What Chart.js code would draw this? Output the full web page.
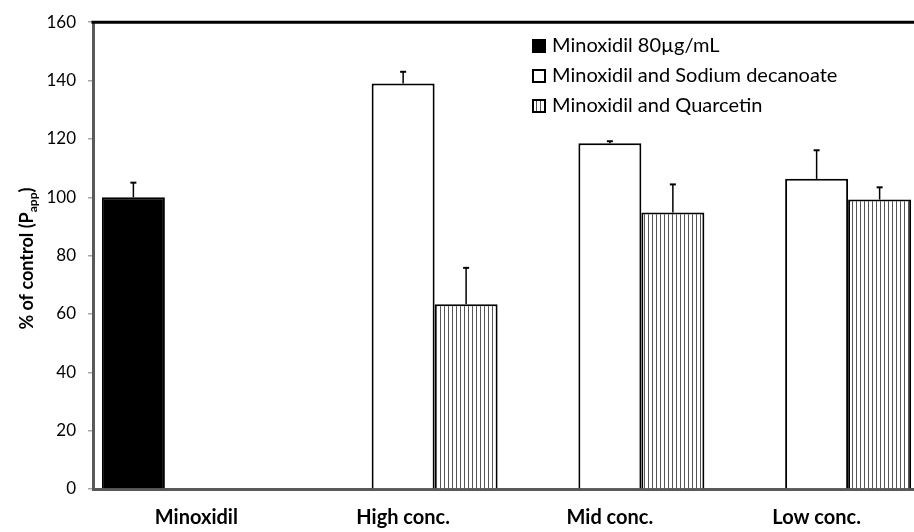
<!DOCTYPE html>
<html>
<head>
<meta charset="utf-8">
<script src="https://cdn.jsdelivr.net/npm/chart.js@4/dist/chart.umd.min.js"></script>
<style>
  html, body { margin: 0; padding: 0; background: #fff; overflow: hidden; }
  #wrap { width: 921px; height: 532px; position: relative; }
</style>
</head>
<body>
<div id="wrap"><canvas id="myChart"></canvas></div>
<script>
var categories = ["Minoxidil", "High conc.", "Mid conc.", "Low conc."];
var seriesNames = ["Minoxidil 80\u00b5g/mL", "Minoxidil and Sodium decanoate", "Minoxidil and Quarcetin"];
var minoxidil = [100, null, null, null];
var minoxidilErr = [5, null, null, null];
var sodiumDecanoate = [null, 139, 118.5, 106.3];
var sodiumDecanoateErr = [null, 4, 0.7, 9.8];
var quarcetin = [null, 63.3, 94.8, 99.2];
var quarcetinErr = [null, 12.5, 9.6, 4.2];
var yTicks = [0, 20, 40, 60, 80, 100, 120, 140, 160];

var FONT = "Lato";

// vertical-line hatch used for the third series
function makeHatch() {
    var c = document.createElement("canvas");
    c.width = 4; c.height = 4;
    var g = c.getContext("2d");
    g.fillStyle = "#fff";
    g.fillRect(0, 0, 4, 4);
    g.fillStyle = "#555";
    g.fillRect(0, 0, 1, 4);
    return g.createPattern(c, "repeat");
}
var hatch = makeHatch();

var errorBars = {
    id: "errorBars",
    afterDatasetsDraw: function (chart) {
        var ctx = chart.ctx, y = chart.scales.y;
        ctx.save();
        ctx.strokeStyle = "#000";
        chart.data.datasets.forEach(function (ds, i) {
            var meta = chart.getDatasetMeta(i);
            meta.data.forEach(function (bar, j) {
                if (ds.data[j] == null) return;
                var top = y.getPixelForValue(ds.data[j] + ds.errors[j]);
                ctx.lineWidth = 1.5;
                ctx.beginPath();
                ctx.moveTo(bar.x, bar.y);
                ctx.lineTo(bar.x, top);
                ctx.stroke();
                ctx.lineWidth = 2;
                ctx.beginPath();
                ctx.moveTo(bar.x - 3, top);
                ctx.lineTo(bar.x + 3, top);
                ctx.stroke();
            });
        });
        ctx.restore();
    }
};

var frame = {
    id: "frame",
    afterDraw: function (chart) {
        var ctx = chart.ctx, a = chart.chartArea;
        ctx.save();
        // top border
        ctx.strokeStyle = "#000";
        ctx.lineWidth = 3;
        ctx.beginPath();
        ctx.moveTo(a.left - 1.5, a.top);
        ctx.lineTo(a.right + 2, a.top);
        ctx.stroke();

        // y axis title with subscript
        var mid = (a.top + a.bottom) / 2 + 3;
        ctx.translate(27, mid);
        ctx.rotate(-Math.PI / 2);
        ctx.fillStyle = "#000";
        ctx.textBaseline = "middle";
        var main = "% of control (P", sub = "app", close = ")";
        ctx.font = "bold 18px " + FONT;
        var w1 = ctx.measureText(main).width, w3 = ctx.measureText(close).width;
        ctx.font = "bold 12px " + FONT;
        var w2 = ctx.measureText(sub).width;
        var x = -(w1 + w2 + w3) / 2;
        ctx.font = "bold 18px " + FONT;
        ctx.fillText(main, x, 0);
        ctx.font = "bold 12px " + FONT;
        ctx.fillText(sub, x + w1, 6);
        ctx.font = "bold 18px " + FONT;
        ctx.fillText(close, x + w1 + w2, 0);
        ctx.restore();

        // legend in the upper right of the plot
        var lx = 532, ly = 46, step = 30;
        ctx.save();
        ctx.font = "20px " + FONT;
        ctx.textBaseline = "middle";
        chart.data.datasets.forEach(function (ds, i) {
            var yy = ly + i * step;
            ctx.fillStyle = ds.backgroundColor;
            ctx.fillRect(lx, yy - 7, 14, 14);
            ctx.strokeStyle = "#000";
            ctx.lineWidth = 2;
            ctx.strokeRect(lx + 1, yy - 6, 12, 12);
            ctx.fillStyle = "#000";
            ctx.fillText(ds.label, lx + 20, yy);
        });
        ctx.restore();
    }
};

new Chart("myChart", {
    type: "bar",
    data: {
        labels: categories,
        datasets: [{
            label: seriesNames[0],
            data: minoxidil,
            errors: minoxidilErr,
            backgroundColor: "#000",
            borderColor: "#000",
            borderWidth: 2
        }, {
            label: seriesNames[1],
            data: sodiumDecanoate,
            errors: sodiumDecanoateErr,
            backgroundColor: "#fff",
            borderColor: "#000",
            borderWidth: 2
        }, {
            label: seriesNames[2],
            data: quarcetin,
            errors: quarcetinErr,
            backgroundColor: hatch,
            borderColor: "#000",
            borderWidth: 2
        }]
    },
    options: {
        responsive: true,
        maintainAspectRatio: false,
        animation: false,
        events: [],
        layout: { padding: { top: 20, right: 1, left: 0, bottom: 0 } },
        datasets: { bar: { categoryPercentage: 0.914, barPercentage: 1 } },
        plugins: {
            legend: { display: false },
            tooltip: { enabled: false }
        },
        scales: {
            x: {
                afterFit: function (s) { s.height = 43; },
                grid: { display: false, drawTicks: false },
                border: { color: "#595959", width: 3 },
                ticks: { color: "#000", padding: 17, font: { family: FONT, size: 20, weight: "bold" } }
            },
            y: {
                min: 0,
                max: 160,
                afterFit: function (s) { s.width = 93; },
                afterBuildTicks: function (s) { s.ticks = yTicks.map(function (v) { return { value: v }; }); },
                grid: { drawOnChartArea: false, tickLength: 5, color: "#a6a6a6", lineWidth: 1.5 },
                border: { color: "#595959", width: 3 },
                ticks: { color: "#000", padding: 12, font: { family: FONT, size: 17 } }
            }
        }
    },
    plugins: [errorBars, frame]
});
</script>
</body>
</html>
